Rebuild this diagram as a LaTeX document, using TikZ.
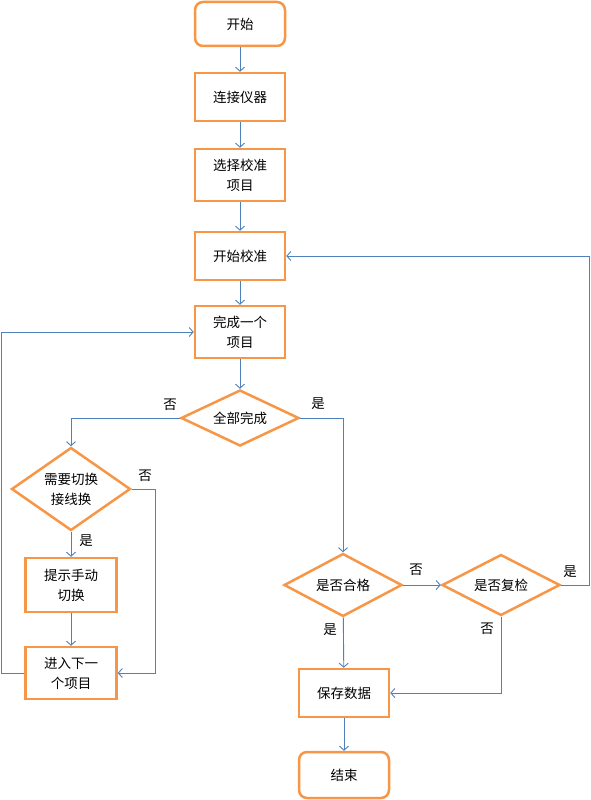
\documentclass[tikz,border=0pt]{standalone}
\usepackage{fontspec}
\newfontfamily\cjk{Noto Sans CJK SC}
\usetikzlibrary{arrows.meta}
\usetikzlibrary{shapes.geometric}
\definecolor{bordo}{HTML}{F79646}
\definecolor{linea}{HTML}{4F81BD}
\tikzset{>={Straight Barb[length=4pt,width=9pt]}}
\tikzset{
  passo/.style={draw=bordo, line width=2.5pt, fill=white, minimum width=90pt, minimum height=48pt, inner sep=1pt, align=center, font=\cjk\fontsize{13.5}{20}\selectfont},
  capo/.style={passo, rounded corners=8pt, minimum height=44pt},
  scelta/.style={diamond, draw=bordo, line width=2.5pt, fill=white, aspect=2, inner sep=0pt, minimum width=118pt, minimum height=60pt, align=center, font=\cjk\fontsize{13.5}{20}\selectfont},
  freccia/.style={->, draw=linea, line width=0.9pt},
  risposta/.style={font=\cjk\fontsize{13.5}{15}\selectfont}
}
\begin{document}
\begin{tikzpicture}[x=1pt, y=-1pt]
	\useasboundingbox (0,0) rectangle (590,800);
	%colonna centrale
	\node[capo] (inizio) at (240,24) {开始};
	\node[passo] (collega) at (240,97) {连接仪器};
	\node[passo, minimum height=52pt] (scegli) at (240,175) {选择校准\\项目};
	\node[passo] (avvio) at (240,256) {开始校准};
	\node[passo, minimum height=52pt] (compl) at (240,332) {完成一个\\项目};
	\node[scelta, minimum height=56pt] (tutti) at (240,418) {全部完成};
	%ramo sinistro
	\node[scelta, minimum height=83pt] (cambio) at (71,489) {需要切换\\接线换};
	\node[passo, minimum width=91pt, minimum height=54pt] (avviso) at (71,585) {提示手动\\切换};
	\node[passo, minimum width=91pt, minimum height=52pt] (succ) at (71,673) {进入下一\\个项目};
	%ramo destro
	\node[scelta, minimum height=63pt] (idoneo) at (343,585) {是否合格};
	\node[scelta, minimum height=61pt] (ricontr) at (501,585) {是否复检};
	\node[passo] (salva) at (344,693) {保存数据};
	\node[capo, minimum height=46pt] (fine) at (344,775) {结束};
	%punti d'angolo
	\coordinate (c1) at (155,489);
	\coordinate (c2) at (1,673);
	\coordinate (c3) at (589,585);
	%frecce principali
	\draw[freccia] (inizio) -- (collega);
	\draw[freccia] (collega) -- (scegli);
	\draw[freccia] (scegli) -- (avvio);
	\draw[freccia] (avvio) -- (compl);
	\draw[freccia] (compl) -- (tutti);
	\draw[freccia] (tutti.west) -| (cambio.north);
	\draw[freccia] (tutti.east) -| (idoneo.north);
	\draw[freccia] (cambio) -- (avviso);
	\draw[freccia] (avviso) -- (succ);
	\draw[freccia] (cambio.east) -- (c1) |- (succ.east);
	\draw[freccia] (succ.west) -- (c2) |- (compl.west);
	\draw[freccia] (idoneo) -- (ricontr);
	\draw[freccia] (idoneo) -- (salva);
	\draw[freccia] (ricontr.east) -- (c3) |- (avvio.east);
	\draw[freccia] (ricontr.south) |- (salva.east);
	\draw[freccia] (salva) -- (fine);
	%etichette
	\node[risposta] (no1) at (170,405) {否};
	\node[risposta] (si1) at (318,404) {是};
	\node[risposta] (no2) at (145,476) {否};
	\node[risposta] (si2) at (86,541) {是};
	\node[risposta] (no3) at (416,570) {否};
	\node[risposta] (si3) at (330,630) {是};
	\node[risposta] (si4) at (570,572) {是};
	\node[risposta] (no4) at (487,629) {否};
\end{tikzpicture}
\end{document}
